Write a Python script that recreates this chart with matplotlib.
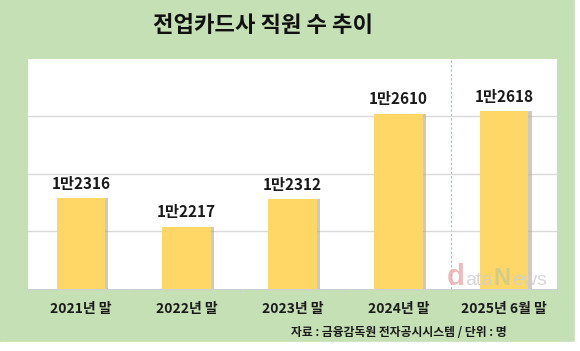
import matplotlib.pyplot as plt
from matplotlib.patches import Rectangle
import numpy as np

plt.rcParams['font.family'] = ['Noto Sans CJK KR', 'DejaVu Sans']

categories = ['2021년 말', '2022년 말', '2023년 말', '2024년 말', '2025년 6월 말']
staff = [12316, 12217, 12312, 12610, 12618]
labels = ['1만2316', '1만2217', '1만2312', '1만2610', '1만2618']

green = '#c5e0b4'
bar_color = '#fed766'

fig = plt.figure(figsize=(5.8, 3.51), dpi=100)
fig.patch.set_facecolor(green)
# white strips at the right and bottom edges
fig.patches.append(Rectangle((575 / 580, 0), 1, 1, transform=fig.transFigure,
                             color='white', zorder=0))
fig.patches.append(Rectangle((0, 0), 1, 9 / 351, transform=fig.transFigure,
                             color='white', zorder=0))

ax = fig.add_axes([28 / 580, 62 / 351, 529 / 580, 230 / 351])
ax.set_facecolor('white')

x = np.arange(len(categories))
w = 0.46
# shadow then bar
ax.bar(x + 0.03, staff, width=w, color='#a8a8a8', alpha=0.6, zorder=2)
ax.bar(x, staff, width=w, color=bar_color, zorder=3)

for xi, v, lab in zip(x, staff, labels):
    ax.text(xi, v + 22, lab, ha='center', va='bottom', fontsize=11,
            fontweight='bold', color='#1a1a1a', zorder=4)

ax.set_ylim(12000, 12800)
ax.set_xlim(-0.5, 4.5)
ax.set_yticks([12200, 12400, 12600])
ax.yaxis.grid(True, color='#d9d9d9', lw=1, zorder=1)
ax.tick_params(axis='y', length=0, labelleft=False)

ax.set_xticks(x)
ax.set_xticklabels(categories, fontsize=10, fontweight='bold', color='#1a1a1a')
ax.set_xticks(np.arange(-0.5, 5, 1), minor=True)
ax.tick_params(axis='x', which='major', length=0, pad=9)
ax.tick_params(axis='x', which='minor', length=3, color='#d0d0d0')

for s in ['left', 'right', 'top']:
    ax.spines[s].set_visible(False)
ax.spines['bottom'].set_color('#d0d0d0')

ax.axvline(3.5, color='#8fbfe8', lw=0.8, ls=(0, (2, 2)), zorder=1)

# watermark
wm = dict(ha='left', va='baseline', zorder=5, family='Liberation Sans')
ax.text(3.46, 12015, 'd', fontsize=21, color='#eba3a3', alpha=0.75,
        fontweight='bold', **wm)
ax.text(3.63, 12015, 'ata', fontsize=14, color='#cfcfcf', alpha=0.85, **wm)
ax.text(3.90, 12015, 'N', fontsize=17, color='#c9c98f', alpha=0.8,
        fontweight='bold', **wm)
ax.text(4.08, 12015, 'ews', fontsize=14, color='#cfcfcf', alpha=0.85, **wm)

fig.text(263 / 580, 1 - 25 / 351, '전업카드사 직원 수 추이', ha='center', va='center',
         fontsize=16, fontweight='black', color='#111111')
fig.text(507 / 580, 1 - 332 / 351, '자료 : 금융감독원 전자공시시스템 / 단위 : 명',
         ha='right', va='center', fontsize=8.5, fontweight='bold', color='#1a1a1a')

fig.savefig('out.png', dpi=100, facecolor=fig.get_facecolor())
